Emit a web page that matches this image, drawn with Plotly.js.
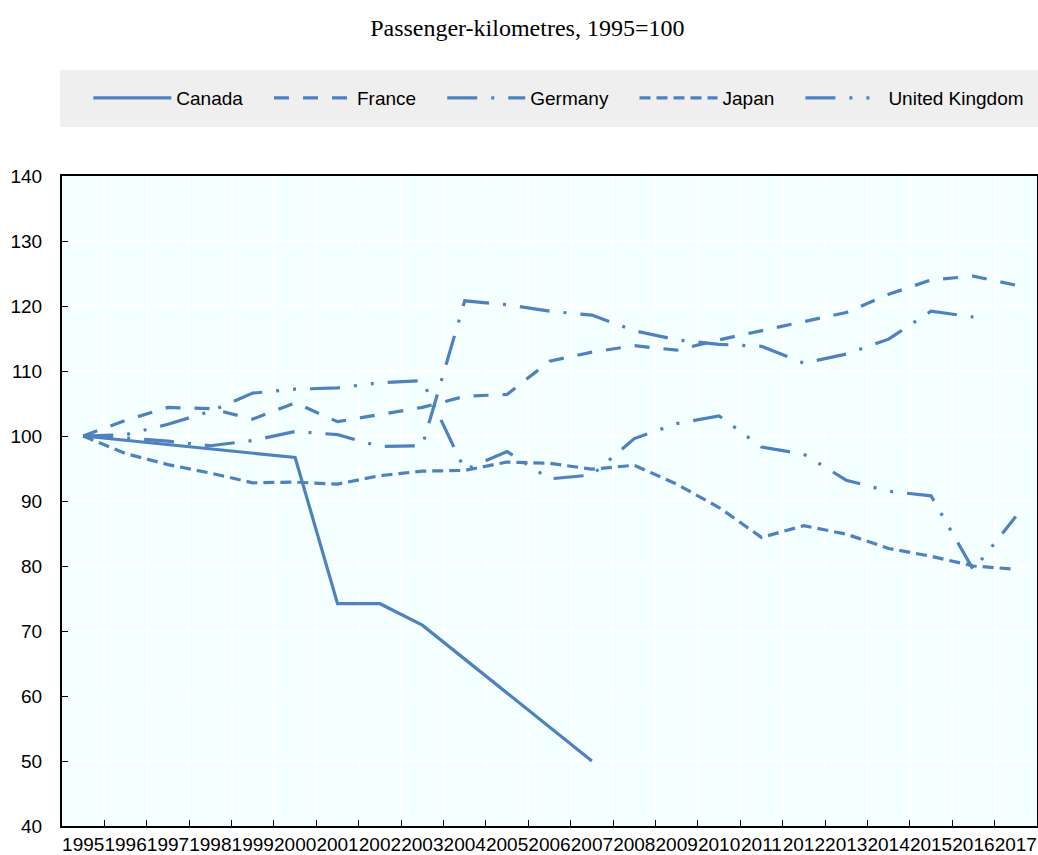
<!DOCTYPE html>
<html>
<head>
<meta charset="utf-8">
<script src="https://cdn.plot.ly/plotly-3.0.1.min.js"></script>
<style>html,body{margin:0;padding:0;background:#fff;}#chart{width:1038px;height:855px;}</style>
</head>
<body>
<div id="chart"></div>
<script>
var years = ["1995","1996","1997","1998","1999","2000","2001","2002","2003","2004","2005","2006","2007","2008","2009","2010","2011","2012","2013","2014","2015","2016","2017"];
var canada  = [100, null, null, null, null, 96.7, 74.2, 74.2, 70.9, null, null, null, 50.0, null, null, null, null, null, null, null, null, null, null];
var france  = [100, 102.4, 104.4, 104.2, 102.6, 105.1, 102.2, 103.3, 104.4, 106.1, 106.4, 111.5, 112.9, 113.9, 113.2, 114.8, 116.2, 117.5, 119.0, 121.8, 124.0, 124.6, 123.2];
var germany = [100, 99.7, 99.2, 98.5, 99.3, 100.7, 100.2, 98.4, 98.5, 120.8, 120.2, 119.2, 118.6, 116.2, 114.8, 114.1, 113.8, 111.2, 112.6, 114.9, 119.2, 118.3, null];
var japan   = [100, 97.3, 95.6, 94.3, 92.8, 92.9, 92.6, 93.9, 94.6, 94.7, 96.0, 95.8, 94.9, 95.5, 92.6, 89.0, 84.4, 86.2, 84.9, 82.7, 81.5, 80.0, 79.5];
var uk      = [100, 100.2, 101.8, 103.8, 106.6, 107.2, 107.4, 108.2, 108.5, 94.8, 97.6, 93.4, 94.0, 99.6, 101.9, 103.1, 98.3, 97.2, 93.2, 91.5, 90.8, 79.4, 87.6];
var seriesNames = ["Canada", "France", "Germany", "Japan", "United Kingdom"];

var blue = "#4F81BD";
var fnt = "'Liberation Sans',Arial,sans-serif";
var styles = ["solid", "15px,14px", "30px,14px,3px,14px", "11px,6px", "30px,14px,3px,14px,3px,14px"];
var vals = [canada, france, germany, japan, uk];
var pad = "\u00a0\u00a0\u00a0\u00a0";

var traces = vals.map(function(v, i) {
  return {
    type: "scatter", mode: "lines", name: seriesNames[i] + (i < vals.length - 1 ? pad : ""),
    x: years, y: v, connectgaps: true,
    line: {color: blue, width: 3.2, dash: styles[i]}
  };
});

var layout = {
  width: 1038, height: 855,
  margin: {l: 62, r: 1, t: 176, b: 29},
  paper_bgcolor: "#ffffff",
  plot_bgcolor: "#F4FFFF",
  title: {text: "Passenger-kilometres, 1995=100", font: {family: "'Liberation Serif','Times New Roman',serif", size: 24, color: "#000"},
          x: 0.508, xanchor: "center", y: 1 - 28/855, yanchor: "middle", yref: "container"},
  showlegend: true,
  legend: {orientation: "h", x: 0.027, xanchor: "left", y: (826-98)/650, yanchor: "middle",
           bgcolor: "rgba(0,0,0,0)", font: {family: fnt, size: 19, color: "#000"},
           itemwidth: 78, traceorder: "normal"},
  shapes: [{type: "rect", xref: "paper", yref: "paper", x0: -0.002, x1: 1.03, y0: (826-127)/650, y1: (826-70)/650,
            fillcolor: "#EFEFEF", line: {width: 0}, layer: "below"}],
  xaxis: {type: "category", range: [-0.5, 22.5], tickson: "boundaries", ticks: "inside", ticklen: 6, tickcolor: "#000", tickwidth: 1,
          showgrid: true, gridcolor: "#ffffff", gridwidth: 2, showline: true, linecolor: "#000", linewidth: 2, mirror: true,
          tickangle: 0, tickfont: {family: fnt, size: 19, color: "#000"}, zeroline: false, fixedrange: true},
  yaxis: {range: [40, 140], dtick: 10, tick0: 40, ticks: "inside", ticklen: 6, tickcolor: "#000", tickwidth: 1,
          showgrid: true, gridcolor: "#ffffff", gridwidth: 2, showline: true, linecolor: "#000", linewidth: 2, mirror: true,
          ticklabelstandoff: 14, tickfont: {family: fnt, size: 19, color: "#000"}, zeroline: false, fixedrange: true}
};

Plotly.newPlot("chart", traces, layout, {displayModeBar: false, staticPlot: true});
</script>
</body>
</html>
